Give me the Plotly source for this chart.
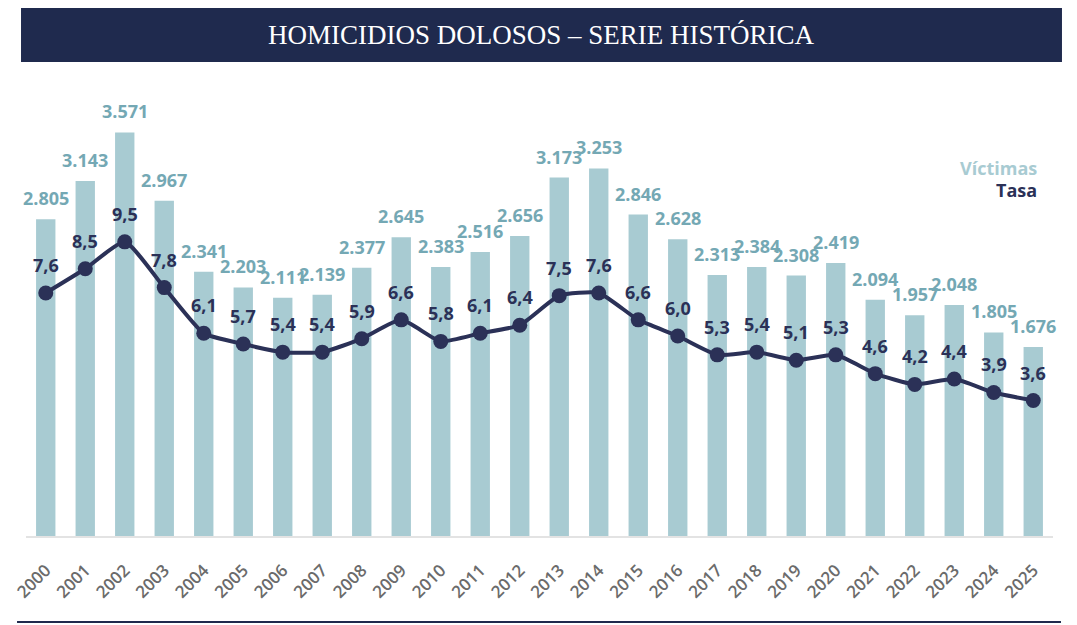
import plotly.graph_objects as go

years = [str(y) for y in range(2000, 2026)]
victimas = [2805, 3143, 3571, 2967, 2341, 2203, 2111, 2139, 2377, 2645, 2383, 2516, 2656,
            3173, 3253, 2846, 2628, 2313, 2384, 2308, 2419, 2094, 1957, 2048, 1805, 1676]
tasa = [7.6, 8.5, 9.5, 7.8, 6.1, 5.7, 5.4, 5.4, 5.9, 6.6, 5.8, 6.1, 6.4,
        7.5, 7.6, 6.6, 6.0, 5.3, 5.4, 5.1, 5.3, 4.6, 4.2, 4.4, 3.9, 3.6]

W, H = 1077, 625
# plot area in page pixels
P_L, P_R, P_T, P_B = 23, 1053, 100, 537
L, R, T, B = P_L, W - P_R, P_T, H - P_B
PW, PH = P_R - P_L, P_B - P_T

def px(x):
    return (x - P_L) / PW

def py(y):
    return (P_B - y) / PH

BAR = "#a8cbd2"
BARTXT = "#74a8b4"
LINE = "#2b3157"
NAVY = "#1f2a4e"
FONT = "Open Sans"

def fmt_int(v):
    return f"{v:,}".replace(",", ".")

def fmt_dec(v):
    return f"{v:.1f}".replace(".", ",")

fig = go.Figure()
fig.add_trace(go.Bar(x=years, y=victimas, marker=dict(color=BAR, line=dict(width=0)),
                     width=0.49, name="Víctimas", hoverinfo="skip"))
fig.add_trace(go.Scatter(x=years, y=tasa, yaxis="y2", mode="lines+markers",
                         line=dict(color=LINE, width=4, shape="spline", smoothing=0.5),
                         marker=dict(color=LINE, size=15), name="Tasa", hoverinfo="skip"))

ann = []
for i, v in enumerate(victimas):
    ann.append(dict(x=i, y=v, xref="x", yref="y", text=fmt_int(v), showarrow=False,
                    yanchor="middle", yshift=21,
                    font=dict(family=FONT, size=18, color=BARTXT, weight=700)))
for i, v in enumerate(tasa):
    ann.append(dict(x=i, y=v, xref="x", yref="y2", text=fmt_dec(v), showarrow=False,
                    yanchor="middle", yshift=28,
                    font=dict(family=FONT, size=18, color=LINE, weight=700)))

ann.append(dict(x=px(540), y=py(35), xref="paper", yref="paper", xanchor="center", yanchor="middle",
                text="HOMICIDIOS DOLOSOS – SERIE HISTÓRICA", showarrow=False,
                font=dict(family="Liberation Serif", size=27, color="white")))
ann.append(dict(x=px(1039), y=py(168), xref="paper", yref="paper", xanchor="right", yanchor="middle",
                text="Víctimas", showarrow=False,
                font=dict(family=FONT, size=18, color=BAR, weight=700)))
ann.append(dict(x=px(1039), y=py(190), xref="paper", yref="paper", xanchor="right", yanchor="middle",
                text="Tasa", showarrow=False,
                font=dict(family=FONT, size=18, color=LINE, weight=700)))

shapes = [
    dict(type="rect", xref="paper", yref="paper", x0=px(18), x1=px(1062), y0=py(62), y1=py(8),
         fillcolor=NAVY, line=dict(width=0), layer="below"),
    dict(type="line", xref="paper", yref="paper", x0=px(14), x1=px(1061), y0=py(622), y1=py(622),
         line=dict(color=NAVY, width=2)),
    dict(type="line", xref="paper", yref="paper", x0=0, x1=1, y0=0, y1=0,
         line=dict(color="#e3e3e3", width=2)),
]

y_top = PH / 0.1133
z2 = 497.4
s2 = 26.9
y2_lo = -(P_B - z2) / s2
y2_hi = (z2 - P_T) / s2

fig.update_layout(
    width=W, height=H,
    margin=dict(l=L, r=R, t=T, b=B),
    paper_bgcolor="white", plot_bgcolor="white",
    showlegend=False, bargap=0.5, hovermode=False,
    xaxis=dict(type="category", range=[-0.5, 25.5], showgrid=False, zeroline=False,
               showline=False, ticks="", tickangle=-45, ticklabelstandoff=19,
               tickfont=dict(family=FONT, size=17, color="#6b6b6b", weight=600)),
    yaxis=dict(range=[0, y_top], visible=False, showgrid=False, zeroline=False),
    yaxis2=dict(range=[y2_lo, y2_hi], overlaying="y", visible=False, showgrid=False, zeroline=False),
    annotations=ann, shapes=shapes,
)

fig.write_html(
    "out.html",
    config={"displayModeBar": False, "staticPlot": True},
    post_script="document.documentElement.style.overflow='hidden';"
                "document.body.style.margin='0';document.body.style.padding='0';",
)
